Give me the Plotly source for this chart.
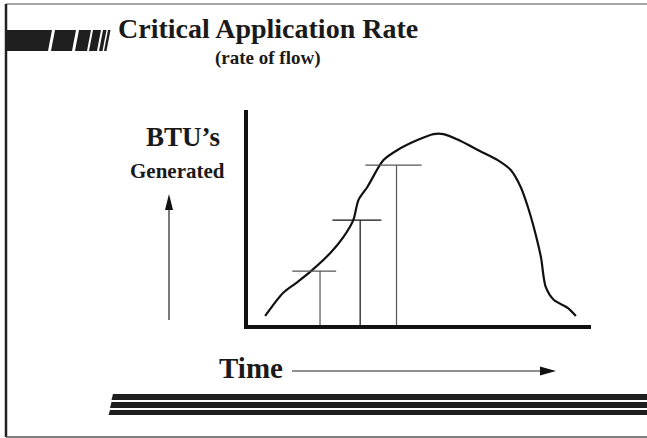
import plotly.graph_objects as go

W, H = 647, 438

# ---- data ----
time_vals = [5.0, 10.2, 14.0, 18.1, 24.0, 27.8, 30.7, 32.2, 34.8, 39.5, 43.6, 49.4,
             54.1, 57.0, 62.0, 67.0, 72.8, 76.6, 79.5, 81.6, 83.3, 85.4, 86.8, 89.2,
             93.3, 95.6]
btu_vals = [4.2, 14.9, 19.5, 24.7, 33.5, 40.9, 48.8, 58.1, 64.2, 76.7, 81.4, 86.0,
            88.8, 88.8, 85.6, 81.4, 76.7, 72.1, 64.2, 54.9, 45.6, 31.6, 17.7, 11.6,
            7.9, 4.2]

rate_times = [21.0, 32.7, 43.3]        # vertical markers
rate_levels = [25.1, 48.8, 74.4]       # horizontal cap heights
cap_left = [12.9, 24.6, 34.2]
cap_right = [25.7, 38.9, 50.6]

title_text = "Critical Application Rate"
subtitle_text = "(rate of flow)"
ylab1, ylab2 = "BTU\u2019s", "Generated"
xlab = "Time"

def px(x):
    return x / W

def py(y):
    return 1 - y / H

fig = go.Figure()

fig.add_trace(go.Scatter(x=time_vals, y=btu_vals, mode="lines",
                         line=dict(color="#111", width=2.2, shape="spline", smoothing=0.8),
                         hoverinfo="skip"))

cols = ["#555", "#111", "#555"]
for i in range(len(rate_times)):
    fig.add_trace(go.Scatter(x=[rate_times[i], rate_times[i]], y=[0, rate_levels[i]],
                             mode="lines", line=dict(color=cols[i], width=1.2),
                             hoverinfo="skip"))
    fig.add_trace(go.Scatter(x=[cap_left[i], cap_right[i]], y=[rate_levels[i], rate_levels[i]],
                             mode="lines", line=dict(color=cols[i], width=1.2),
                             hoverinfo="skip"))

x0d, x1d = 248, 591
y0d, y1d = 110, 325
fig.update_xaxes(domain=[px(x0d), px(x1d)], range=[0, 100], showgrid=False, zeroline=False,
                 showticklabels=False, ticks="", showline=True, linewidth=3.5,
                 linecolor="#111")
fig.update_yaxes(domain=[py(y1d), py(y0d)], range=[0, 100], showgrid=False, zeroline=False,
                 showticklabels=False, ticks="", showline=True, linewidth=3.5,
                 linecolor="#111")

shapes = []

def poly(pts, color="#1e1e1e"):
    d = "M " + " L ".join(f"{px(a):.5f},{py(b):.5f}" for a, b in pts) + " Z"
    shapes.append(dict(type="path", xref="paper", yref="paper", path=d,
                       fillcolor=color, line=dict(width=0)))

def line(x0, y0, x1, y1, color="#222", width=1):
    shapes.append(dict(type="line", xref="paper", yref="paper",
                       x0=px(x0), y0=py(y0), x1=px(x1), y1=py(y1),
                       line=dict(color=color, width=width)))

# frame
line(6, 4, 647, 4, "#8a8a8a", 1.5)
line(6, 4, 6, 437, "#222", 2.5)
line(6, 437, 647, 437, "#555", 1.5)

# top-left bar block
yt, yb = 30, 51
poly([(6, yt), (52, yt), (48, yb), (6, yb)])
for tl, tr in [(55, 76), (79, 91), (93, 101), (103, 106.5), (108, 110.5)]:
    poly([(tl, yt), (tr, yt), (tr - 4, yb), (tl - 4, yb)])

# bottom stripes
for top, bot, xl in [(394, 400, 113), (402, 408, 111.5), (410, 415, 110)]:
    poly([(xl, top), (W + 2, top), (W + 2, bot), (xl - 1.5, bot)])

# y arrow
line(169, 320, 169, 206, "#222", 1.2)
poly([(169, 194), (165, 210), (173, 210)], "#111")
# time arrow
line(292, 371, 542, 371, "#222", 1.2)
poly([(556, 371), (540, 366.5), (540, 375.5)], "#111")

fig.update_layout(shapes=shapes)

serif = "Liberation Serif"
ann = [
    dict(text=f"<b>{title_text}</b>", x=px(268), y=py(29), size=28),
    dict(text=f"<b>{subtitle_text}</b>", x=px(268), y=py(58), size=19),
    dict(text=f"<b>{ylab1}</b>", x=px(183), y=py(137), size=27),
    dict(text=f"<b>{ylab2}</b>", x=px(177), y=py(171), size=21),
    dict(text=f"<b>{xlab}</b>", x=px(251), y=py(368), size=29),
]
for a in ann:
    fig.add_annotation(text=a["text"], x=a["x"], y=a["y"], xref="paper", yref="paper",
                       showarrow=False, xanchor="center", yanchor="middle",
                       font=dict(family=serif, size=a["size"], color="#1a1a1a"))

fig.update_layout(width=W, height=H, margin=dict(l=0, r=0, t=0, b=0),
                  paper_bgcolor="white", plot_bgcolor="white", showlegend=False)

fig.write_html("out.html", config={"displayModeBar": False},
               post_script="document.body.style.margin='0';document.body.style.overflow='hidden';")
